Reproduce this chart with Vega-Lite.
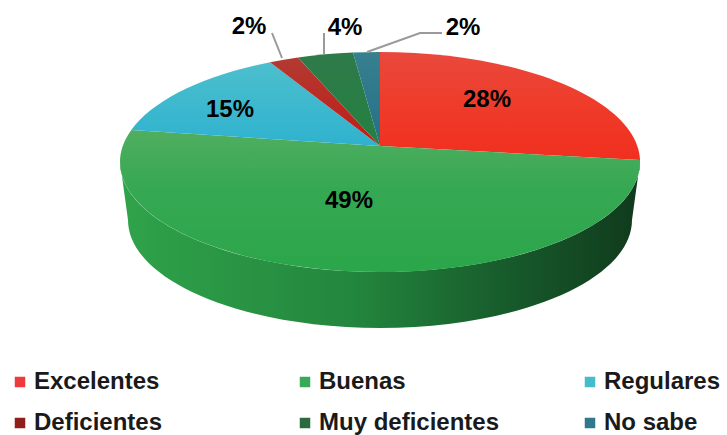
{"$schema":"https://vega.github.io/schema/vega-lite/v6.json","width":727,"height":435,"autosize":{"type":"fit","contains":"padding"},"padding":0,"background":"white","view":{"stroke":null},"data":{"values":[{"category":"Excelentes","value":0.28},{"category":"Buenas","value":0.49},{"category":"Regulares","value":0.15},{"category":"Deficientes","value":0.02},{"category":"Muy deficientes","value":0.04},{"category":"No sabe","value":0.02}]},"config":{"font":"Liberation Sans","style":{"pct":{"font":"Liberation Sans","fontWeight":"bold","fontSize":24,"fill":"#1c2326","align":"center","baseline":"middle"}}},"layer":[{"mark":{"type":"square","size":0,"opacity":1,"strokeWidth":0},"encoding":{"color":{"field":"category","type":"nominal","scale":{"domain":["Excelentes","Buenas","Regulares","Deficientes","Muy deficientes","No sabe"],"range":["#ee3a3c","#3aa858","#45bccb","#8e1f1a","#2b6a3e","#30788e"]},"legend":{"title":null,"orient":"none","legendX":8,"legendY":370,"columns":3,"direction":"horizontal","gridAlign":"all","columnPadding":78,"rowPadding":17,"symbolType":"square","symbolSize":110,"symbolStrokeWidth":0,"labelFontSize":24,"labelFontWeight":"bold","labelFont":"Liberation Sans","labelColor":"#1a1a1a","labelLimit":300,"labelOffset":2,"padding":0}}}},{"transform":[{"filter":"datum.category==='Buenas'"}],"mark":{"type":"point","filled":true,"size":4,"opacity":1,"strokeWidth":0,"shape":"M-243.5,-55.5 A260,110 0 0 0 276.5,-55.5 L268.5,2.5 A252,108 0 0 1 -235.5,2.5 Z","fill":{"x1":0,"x2":1,"y1":0,"y2":0,"gradient":"linear","stops":[{"offset":0,"color":"#2fa34a"},{"offset":0.45,"color":"#23863d"},{"offset":0.75,"color":"#175a2b"},{"offset":1,"color":"#103a1c"}]}}},{"transform":[{"filter":"datum.category==='Excelentes'"}],"mark":{"type":"point","filled":true,"size":4,"opacity":1,"strokeWidth":0,"shape":"M16.5,-71.5 L16.5,-165.5 A260,110 0 0 1 276.5,-57.5 Z","fill":{"x1":0,"x2":0,"y1":0,"y2":1,"gradient":"linear","stops":[{"offset":0,"color":"#e8493c"},{"offset":0.5,"color":"#ef3b2a"},{"offset":1,"color":"#f12f1f"}]}}},{"transform":[{"filter":"datum.category==='Buenas'"}],"mark":{"type":"point","filled":true,"size":4,"opacity":1,"strokeWidth":0,"shape":"M16.5,-71.5 L276.5,-57.5 A260,110 0 1 1 -232.2,-87.5 Z","fill":{"x1":0,"x2":0,"y1":0,"y2":1,"gradient":"linear","stops":[{"offset":0,"color":"#50ae60"},{"offset":0.4,"color":"#36a853"},{"offset":1,"color":"#2ba64a"}]}}},{"transform":[{"filter":"datum.category==='Regulares'"}],"mark":{"type":"point","filled":true,"size":4,"opacity":1,"strokeWidth":0,"shape":"M16.5,-71.5 L-232.2,-87.5 A260,110 0 0 1 -93.5,-155.2 Z","fill":{"x1":0,"x2":0,"y1":0,"y2":1,"gradient":"linear","stops":[{"offset":0,"color":"#4cbfcd"},{"offset":1,"color":"#2fb2cf"}]}}},{"transform":[{"filter":"datum.category==='Deficientes'"}],"mark":{"type":"point","filled":true,"size":4,"opacity":1,"strokeWidth":0,"shape":"M16.5,-71.5 L-93.5,-155.2 A260,110 0 0 1 -65.5,-159.9 Z","fill":{"x1":0,"x2":0,"y1":0,"y2":1,"gradient":"linear","stops":[{"offset":0,"color":"#b23a32"},{"offset":1,"color":"#c11c17"}]}}},{"transform":[{"filter":"datum.category==='Muy deficientes'"}],"mark":{"type":"point","filled":true,"size":4,"opacity":1,"strokeWidth":0,"shape":"M16.5,-71.5 L-65.5,-159.9 A260,110 0 0 1 -10.5,-164.9 Z","fill":{"x1":0,"x2":0,"y1":0,"y2":1,"gradient":"linear","stops":[{"offset":0,"color":"#2f7a4a"},{"offset":1,"color":"#248040"}]}}},{"transform":[{"filter":"datum.category==='No sabe'"}],"mark":{"type":"point","filled":true,"size":4,"opacity":1,"strokeWidth":0,"shape":"M16.5,-71.5 L-10.5,-164.9 A260,110 0 0 1 16.5,-165.5 Z","fill":{"x1":0,"x2":0,"y1":0,"y2":1,"gradient":"linear","stops":[{"offset":0,"color":"#37808f"},{"offset":1,"color":"#256f88"}]}}},{"transform":[{"filter":"datum.category==='Buenas'"}],"mark":{"type":"point","filled":false,"opacity":1,"size":4,"strokeWidth":2,"stroke":"#9a9a9a","shape":"M-91.5,-184.5 L-81.5,-159.5 M-39.5,-184.5 L-39.5,-163.5 M78.5,-184.5 L56.5,-184.5 L3.5,-165.5"}},{"transform":[{"filter":"datum.category==='Excelentes'"}],"mark":{"type":"text","style":"pct","dx":123.5,"dy":-117.5},"encoding":{"text":{"field":"value","type":"quantitative","format":".0%"}}},{"transform":[{"filter":"datum.category==='Buenas'"}],"mark":{"type":"text","style":"pct","dx":-14.5,"dy":-16.5},"encoding":{"text":{"field":"value","type":"quantitative","format":".0%"}}},{"transform":[{"filter":"datum.category==='Regulares'"}],"mark":{"type":"text","style":"pct","dx":-133.5,"dy":-107.5},"encoding":{"text":{"field":"value","type":"quantitative","format":".0%"}}},{"transform":[{"filter":"datum.category==='Deficientes'"}],"mark":{"type":"text","style":"pct","dx":-114.5,"dy":-190.5},"encoding":{"text":{"field":"value","type":"quantitative","format":".0%"}}},{"transform":[{"filter":"datum.category==='Muy deficientes'"}],"mark":{"type":"text","style":"pct","dx":-18.5,"dy":-189.5},"encoding":{"text":{"field":"value","type":"quantitative","format":".0%"}}},{"transform":[{"filter":"datum.category==='No sabe'"}],"mark":{"type":"text","style":"pct","dx":99.5,"dy":-189.5},"encoding":{"text":{"field":"value","type":"quantitative","format":".0%"}}}]}
